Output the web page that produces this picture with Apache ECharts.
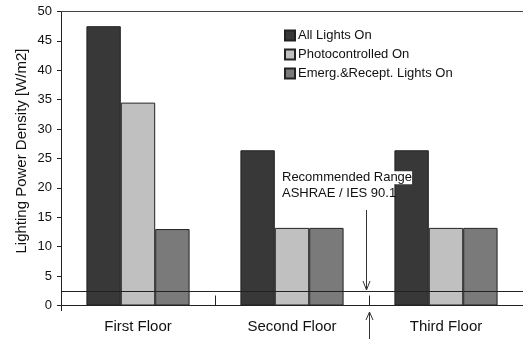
<!DOCTYPE html>
<html>
<head>
<meta charset="utf-8">
<script src="https://cdn.jsdelivr.net/npm/echarts@6/dist/echarts.min.js"></script>
<style>
html,body{margin:0;padding:0;background:#fff;}
#c{width:523px;height:339px;}
</style>
</head>
<body>
<div id="c"></div>
<script>
const categories = ['First Floor', 'Second Floor', 'Third Floor'];
const seriesNames = ['All Lights On', 'Photocontrolled On', 'Emerg.&Recept. Lights On'];
const allLightsOn = [47.5, 26.4, 26.4];
const photocontrolledOn = [34.5, 13.2, 13.2];
const emergRecept = [13.0, 13.2, 13.2];
const recommendedLevel = 2.5;
const yTicks = [0, 5, 10, 15, 20, 25, 30, 35, 40, 45, 50];
const yAxisTitle = 'Lighting Power Density [W/m2]';

const FONT = 'Liberation Sans, Arial, Helvetica, sans-serif';
const colors = ['#383838', '#c0c0c0', '#7a7a7a'];
const values = [allLightsOn, photocontrolledOn, emergRecept];

const chart = echarts.init(document.getElementById('c'), null, {renderer: 'canvas'});

const series = seriesNames.map((name, i) => ({
  name: name,
  type: 'bar',
  data: values[i],
  barGap: '0%',
  barCategoryGap: '33%',
  itemStyle: {color: colors[i], borderColor: '#222', borderWidth: 1},
  emphasis: {disabled: true},
  z: 2
}));

series[0].markLine = {
  silent: true,
  symbol: 'none',
  label: {show: false},
  lineStyle: {color: '#222', width: 1, type: 'solid'},
  data: [{yAxis: 0}, {yAxis: recommendedLevel}],
  z: 5
};

const option = {
  animation: false,
  backgroundColor: '#fff',
  textStyle: {fontFamily: FONT},
  grid: {left: 61, top: 11.5, width: 465, height: 294, containLabel: false},
  legend: {
    orient: 'vertical',
    left: 279,
    top: 24,
    itemWidth: 10,
    itemHeight: 10,
    itemGap: 6,
    icon: 'rect',
    textStyle: {fontFamily: FONT, fontSize: 13, color: '#111', padding: [0, 0, 0, -2]},
    data: seriesNames
  },
  xAxis: [{
    type: 'category',
    data: categories,
    offset: 5,
    axisLine: {show: true, lineStyle: {color: '#222', width: 1}},
    axisTick: {show: true, inside: true, length: 10, lineStyle: {color: '#222', width: 1}},
    axisLabel: {fontFamily: FONT, fontSize: 15, color: '#111', margin: 9}
  }, {
    type: 'category',
    data: categories,
    position: 'top',
    axisLine: {show: true, lineStyle: {color: '#444', width: 1}},
    axisTick: {show: false},
    axisLabel: {show: false}
  }],
  yAxis: {
    type: 'value',
    min: 0,
    max: 50,
    interval: 5,
    axisLine: {show: true, lineStyle: {color: '#222', width: 1}},
    axisTick: {show: true, length: 4, lineStyle: {color: '#222', width: 1}},
    axisLabel: {fontFamily: FONT, fontSize: 13, color: '#111', margin: 9,
      formatter: v => (yTicks.indexOf(v) >= 0 ? String(v) : '')},
    splitLine: {show: false}
  },
  series: series,
  graphic: [
    {type: 'text', x: 22, y: 151, rotation: Math.PI / 2, z: 20,
      style: {text: yAxisTitle, fontFamily: FONT, fontSize: 15, fill: '#111',
        textAlign: 'center', textVerticalAlign: 'middle'}},
    {type: 'line', shape: {x1: 61.5, y1: 305, x2: 61.5, y2: 311}, style: {stroke: '#222', lineWidth: 1}, z: 10},
    {type: 'text', left: 282, top: 170, z: 20,
      style: {
        text: '{a|Recommended Range}\n{b|ASHRAE / IES 90.1}',
        fontFamily: FONT, fontSize: 13, fill: '#111', lineHeight: 15.5,
        rich: {
          a: {fontFamily: FONT, fontSize: 13, fill: '#111', backgroundColor: '#fff', lineHeight: 15.5},
          b: {fontFamily: FONT, fontSize: 13, fill: '#111', lineHeight: 15.5}
        }
      }},
    {type: 'line', shape: {x1: 366.5, y1: 210, x2: 366.5, y2: 290}, style: {stroke: '#333', lineWidth: 1}, z: 10},
    {type: 'polyline', shape: {points: [[363, 281], [366.5, 290], [370, 281]]}, style: {stroke: '#333', lineWidth: 1, fill: null}, z: 10},
    {type: 'line', shape: {x1: 369.5, y1: 312, x2: 369.5, y2: 339}, style: {stroke: '#333', lineWidth: 1}, z: 10},
    {type: 'polyline', shape: {points: [[366, 320], [369.5, 312], [373, 320]]}, style: {stroke: '#333', lineWidth: 1, fill: null}, z: 10}
  ]
};
chart.setOption(option);
</script>
</body>
</html>
